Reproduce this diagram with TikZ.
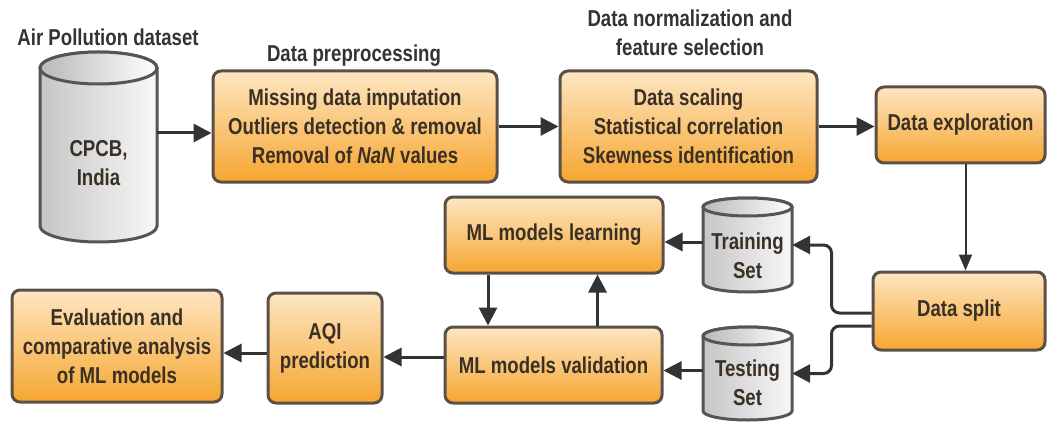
\documentclass[tikz,border=0pt]{standalone}
\usepackage{fontspec}
\setmainfont{Liberation Sans}[FakeStretch=0.81]
\usetikzlibrary{arrows.meta,calc}
\definecolor{boxedge}{HTML}{5A5048}
\definecolor{boxtop}{HTML}{FDE6C2}
\definecolor{boxbot}{HTML}{F6A630}
\definecolor{txt}{HTML}{3A3026}
\definecolor{ttl}{HTML}{333333}
\definecolor{arrcol}{HTML}{333333}
\definecolor{cyledge}{HTML}{555555}
\newcommand\mycyl[5]{% cx, top, bottom, halfwidth, ry
  \path[cylbody] (#1-#4,-#2-#5) -- (#1-#4,-#3+#5)
    arc[start angle=180,end angle=360,x radius=#4,y radius=#5]
    -- (#1+#4,-#2-#5)
    arc[start angle=0,end angle=180,x radius=#4,y radius=#5] -- cycle;
  \path[cyltop] (#1,-#2-#5) ellipse[x radius=#4,y radius=#5];
}
\begin{document}
\begin{tikzpicture}[x=1pt,y=1pt,
  bigfont/.style={font=\fontsize{23}{29}\selectfont\bfseries},
  box/.style={draw=boxedge, line width=3pt, rounded corners=8pt,
    top color=boxtop, bottom color=boxbot, align=center, text=txt,
    bigfont, inner sep=0pt},
  cylbody/.style={draw=cyledge, line width=3pt, left color=gray!45, right color=gray!6},
  cyltop/.style={draw=cyledge, line width=3pt, left color=gray!55, right color=white},
  cylarea/.style={draw=none, inner sep=0pt},
  cyltext/.style={align=center, text=txt, bigfont},
  ttlstyle/.style={align=center, text=ttl, bigfont},
  arr/.style={draw=arrcol, line width=3pt, -{Triangle[length=18pt,width=18pt]}},
  thinarr/.style={draw=arrcol, line width=2pt, -{Triangle[length=16pt,width=13pt]}}]
\useasboundingbox (0,0) rectangle (1048,-422);

% titles
\node[ttlstyle] (t1) at (108,-37) {Air Pollution dataset};
\node[ttlstyle] (t2) at (354,-56) {Data preprocessing};
\node[ttlstyle] (t3) at (690,-33) {Data normalization and\\feature selection};

% cylinders
\mycyl{98.5}{52}{242}{58.5}{16}
\node[cylarea, minimum width=117pt, minimum height=190pt] (cpcb) at (98.5,-147) {};
\node[cyltext] (cpcbt) at (98.5,-163) {CPCB,\\India};

\mycyl{747.5}{198}{292}{44.5}{9}
\node[cylarea, minimum width=89pt, minimum height=94pt] (train) at (747.5,-245) {};
\node[cyltext] (traint) at (747.5,-256) {Training\\Set};

\mycyl{747.5}{327}{420}{44.5}{9}
\node[cylarea, minimum width=89pt, minimum height=93pt] (test) at (747.5,-373.5) {};
\node[cyltext] (testt) at (747.5,-382.5) {Testing\\Set};

% boxes
\node[box, minimum width=284pt, minimum height=111pt] (pre) at (355,-126.5)
  {Missing data imputation\\Outliers detection \& removal\\Removal of \textit{NaN} values};
\node[box, minimum width=257pt, minimum height=111pt] (norm) at (688.5,-126.5)
  {Data scaling\\Statistical correlation\\Skewness identification};
\node[box, minimum width=169pt, minimum height=76pt] (explo) at (960.5,-125) {Data exploration};
\node[box, minimum width=172pt, minimum height=78pt] (split) at (959,-311) {Data split};
\node[box, minimum width=218pt, minimum height=76pt] (learn) at (554,-235) {ML models learning};
\node[box, minimum width=217pt, minimum height=76pt] (valid) at (553.5,-365) {ML models validation};
\node[box, minimum width=114pt, minimum height=110pt] (aqi) at (325,-348) {AQI\\prediction};
\node[box, minimum width=210pt, minimum height=112pt] (eval) at (117,-346)
  {Evaluation and\\comparative analysis\\of ML models};

% connectors
\draw[arr] ([yshift=14pt]cpcb.east) -- ([yshift=14pt]cpcb.east -| pre.west);
\draw[arr] (pre.east) -- (norm.west);
\draw[arr] (norm.east) -- (norm.east -| explo.west);
\draw[thinarr] ([xshift=5pt]explo.south) -- ([xshift=5pt]explo.south |- split.north);
\draw[arr, rounded corners=8pt] ([yshift=-2pt]split.west) -- ++(-40,0) |- (train.east);
\draw[arr, rounded corners=8pt] ([yshift=-15pt]split.west) -- ++(-40,0) |- (test.east);
\draw[arr] ([yshift=3pt]train.west) -- ([yshift=3pt]train.west -| learn.east);
\draw[arr] ([yshift=3pt]test.west) -- ([yshift=3pt]test.west -| valid.east);
\draw[arr] ([xshift=-66pt]learn.south) -- ([xshift=-66pt]learn.south |- valid.north);
\draw[arr] ([xshift=44pt]valid.north) -- ([xshift=44pt]valid.north |- learn.south);
\draw[arr] ([yshift=8pt]valid.west) -- ([yshift=8pt]valid.west -| aqi.east);
\draw[arr] ([yshift=-5pt]aqi.west) -- ([yshift=-5pt]aqi.west -| eval.east);
\end{tikzpicture}
\end{document}
